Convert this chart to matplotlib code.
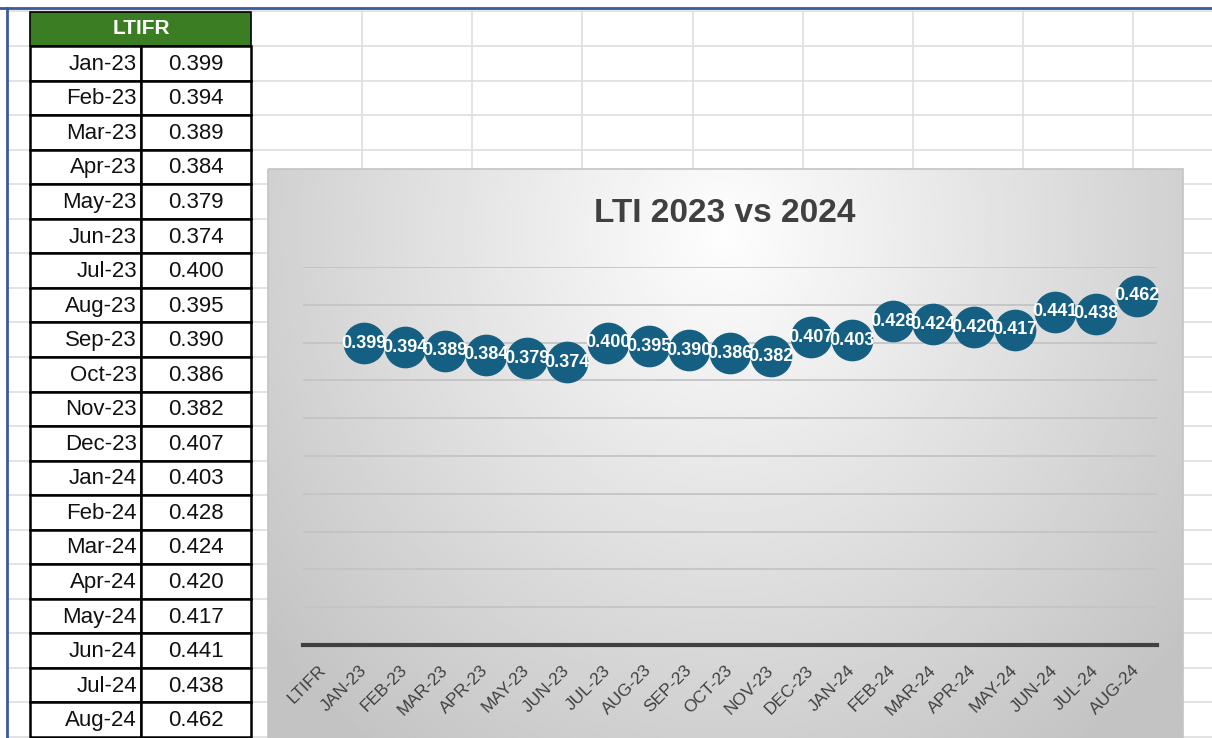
import numpy as np
import matplotlib.pyplot as plt
from matplotlib.patches import Rectangle

plt.rcParams['font.family'] = ['Liberation Sans', 'DejaVu Sans']

# table / chart data
months = ['Jan-23', 'Feb-23', 'Mar-23', 'Apr-23', 'May-23', 'Jun-23', 'Jul-23', 'Aug-23',
          'Sep-23', 'Oct-23', 'Nov-23', 'Dec-23', 'Jan-24', 'Feb-24', 'Mar-24', 'Apr-24',
          'May-24', 'Jun-24', 'Jul-24', 'Aug-24']
ltifr = [0.399, 0.394, 0.389, 0.384, 0.379, 0.374, 0.400, 0.395, 0.390, 0.386, 0.382,
         0.407, 0.403, 0.428, 0.424, 0.420, 0.417, 0.441, 0.438, 0.462]
categories = ['LTIFR'] + [m.upper() for m in months]
title = 'LTI 2023 vs 2024'

W, H = 1212, 738
fig = plt.figure(figsize=(W / 100, H / 100), dpi=100)
fig.patch.set_facecolor('white')

# background axes in pixel coords (spreadsheet look)
bg = fig.add_axes([0, 0, 1, 1])
bg.set_xlim(0, W)
bg.set_ylim(H, 0)
bg.axis('off')

row_h = 34.55
row0 = 46
grid_c = '#e0e0e0'
for k in range(1, 9):
    x = 252 + 110.15 * k
    bg.plot([x, x], [12, H], color=grid_c, lw=1.3, zorder=1)
for k in range(-1, 21):
    y = row0 + row_h * k
    bg.plot([7, W], [y, y], color=grid_c, lw=1.3, zorder=1)

# blue window border
bg.plot([0, W], [8, 8], color='#3a5a9c', lw=2, zorder=5)
bg.plot([7, 7], [8, H], color='#3a5a9c', lw=2, zorder=5)

# table
bg.add_patch(Rectangle((30, 12), 221, row0 - 12, facecolor='#3b7d23', edgecolor='black',
                       lw=1.2, zorder=3))
bg.text(141, 29, 'LTIFR', color='white', fontsize=15, fontweight='bold', ha='center',
        va='center', zorder=4)
for i, (m, v) in enumerate(zip(months, ltifr)):
    y = row0 + row_h * i
    bg.add_patch(Rectangle((30, y), 111, row_h, facecolor='white', edgecolor='black',
                           lw=1.8, zorder=3))
    bg.add_patch(Rectangle((141, y), 110, row_h, facecolor='white', edgecolor='black',
                           lw=1.8, zorder=3))
    bg.text(137, y + row_h / 2 + 1, m, fontsize=16, ha='right', va='center',
            color='#111111', zorder=4)
    bg.text(196, y + row_h / 2 + 1, f'{v:.3f}', fontsize=16, ha='center', va='center',
            color='#111111', zorder=4)

# chart area with radial gradient
cx0, cx1, cy0, cy1 = 268, 1183, 169, 745
xx, yy = np.meshgrid(np.linspace(cx0, cx1, 300), np.linspace(cy0, cy1, 200))
r = np.sqrt(((xx - 725) / 500) ** 2 + ((yy - 230) / 540) ** 2)
shade = 0.995 - 0.23 * np.clip(r, 0, 1.2) / 1.2
bg.imshow(shade, cmap='gray', vmin=0, vmax=1, extent=[cx0, cx1, cy1, cy0],
          aspect='auto', zorder=6, interpolation='bilinear')
bg.add_patch(Rectangle((cx0, cy0), cx1 - cx0, cy1 - cy0, facecolor='none',
                       edgecolor='#c4c4c4', lw=1.2, zorder=7))
bg.text(725, 213, title, fontsize=24, fontweight='bold', color='#404040',
        ha='center', va='center', zorder=8)

# plot axes
ax_l, ax_r, ax_top, ax_bot = 303, 1157, 267, 645
ax = fig.add_axes([ax_l / W, (H - ax_bot) / H, (ax_r - ax_l) / W, (ax_bot - ax_top) / H])
ax.set_zorder(10)
ax.patch.set_alpha(0)
ax.set_xlim(-0.5, len(categories) - 0.5)
ax.set_ylim(0, 0.5)
ax.set_yticks(np.arange(0.05, 0.51, 0.05))
ax.yaxis.grid(True, color='#c4c4c4', lw=1.3)
ax.tick_params(axis='y', left=False, labelleft=False)
ax.tick_params(axis='x', bottom=False, pad=13)
for s in ['top', 'left', 'right']:
    ax.spines[s].set_visible(False)
ax.spines['bottom'].set_color('#404040')
ax.spines['bottom'].set_linewidth(3)

xs = np.arange(1, len(categories))
ax.plot(xs, ltifr, linestyle='none', marker='o', markersize=29, color='#156082',
        clip_on=False, zorder=3)
for x, v in zip(xs, ltifr):
    ax.text(x, v, f'{v:.3f}', color='white', fontsize=13, fontweight='bold',
            ha='center', va='center', zorder=4, clip_on=False)

ax.set_xticks(np.arange(len(categories)))
ax.set_xticklabels(categories, rotation=45, ha='right', va='center',
                   rotation_mode='anchor', color='#404040', fontsize=12.5)

fig.savefig('out.png', dpi=100)
